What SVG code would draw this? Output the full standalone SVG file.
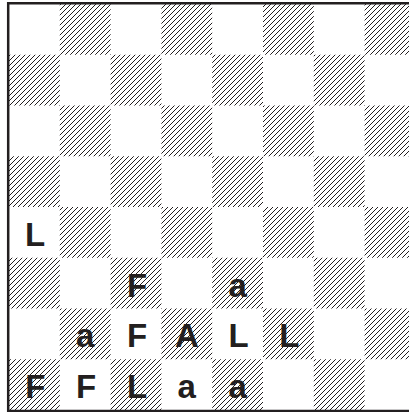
<svg xmlns="http://www.w3.org/2000/svg" width="409" height="412" viewBox="0 0 409 412">
<style>
.d{fill:url(#hatch);}
.p{font-family:"Liberation Sans",Arial,sans-serif;font-weight:bold;font-size:33px;fill:#231f20;text-anchor:middle;}
.b{stroke:#231f20;stroke-width:2.5;fill:none;}
</style>
<defs>
<pattern id="hatch" patternUnits="userSpaceOnUse" width="5" height="5">
<path d="M0,5 L5,0 M-1.25,1.25 L1.25,-1.25 M3.75,6.25 L6.25,3.75" stroke="#231f20" stroke-width="1"/>
</pattern>
</defs>
<rect x="0" y="0" width="409" height="412" fill="#fff"/>
<g id="board">
<rect class="d" x="59.8" y="4" width="50.8" height="50.75"/>
<rect class="d" x="161.4" y="4" width="50.8" height="50.75"/>
<rect class="d" x="263" y="4" width="50.8" height="50.75"/>
<rect class="d" x="364.6" y="4" width="50.8" height="50.75"/>
<rect class="d" x="9" y="54.75" width="50.8" height="50.75"/>
<rect class="d" x="110.6" y="54.75" width="50.8" height="50.75"/>
<rect class="d" x="212.2" y="54.75" width="50.8" height="50.75"/>
<rect class="d" x="313.8" y="54.75" width="50.8" height="50.75"/>
<rect class="d" x="59.8" y="105.5" width="50.8" height="50.75"/>
<rect class="d" x="161.4" y="105.5" width="50.8" height="50.75"/>
<rect class="d" x="263" y="105.5" width="50.8" height="50.75"/>
<rect class="d" x="364.6" y="105.5" width="50.8" height="50.75"/>
<rect class="d" x="9" y="156.25" width="50.8" height="50.75"/>
<rect class="d" x="110.6" y="156.25" width="50.8" height="50.75"/>
<rect class="d" x="212.2" y="156.25" width="50.8" height="50.75"/>
<rect class="d" x="313.8" y="156.25" width="50.8" height="50.75"/>
<rect class="d" x="59.8" y="207" width="50.8" height="50.75"/>
<rect class="d" x="161.4" y="207" width="50.8" height="50.75"/>
<rect class="d" x="263" y="207" width="50.8" height="50.75"/>
<rect class="d" x="364.6" y="207" width="50.8" height="50.75"/>
<rect class="d" x="9" y="257.75" width="50.8" height="50.75"/>
<rect class="d" x="110.6" y="257.75" width="50.8" height="50.75"/>
<rect class="d" x="212.2" y="257.75" width="50.8" height="50.75"/>
<rect class="d" x="313.8" y="257.75" width="50.8" height="50.75"/>
<rect class="d" x="59.8" y="308.5" width="50.8" height="50.75"/>
<rect class="d" x="161.4" y="308.5" width="50.8" height="50.75"/>
<rect class="d" x="263" y="308.5" width="50.8" height="50.75"/>
<rect class="d" x="364.6" y="308.5" width="50.8" height="50.75"/>
<rect class="d" x="9" y="359.25" width="50.8" height="50.75"/>
<rect class="d" x="110.6" y="359.25" width="50.8" height="50.75"/>
<rect class="d" x="212.2" y="359.25" width="50.8" height="50.75"/>
<rect class="d" x="313.8" y="359.25" width="50.8" height="50.75"/>
</g>
<g id="frame">
<path class="b" d="M8.2,412 L8.2,3.2 L409,3.2"/>
<path class="b" d="M7,411 L409,411"/>
</g>
<g id="pieces">
<text class="p" x="35" y="246">L</text>
<text class="p" x="137" y="296.8">F</text>
<text class="p" x="237.6" y="296.8">a</text>
<text class="p" x="85.2" y="347.4">a</text>
<text class="p" x="137" y="347.4">F</text>
<text class="p" x="186.8" y="347.4">A</text>
<text class="p" x="238.6" y="347.4">L</text>
<text class="p" x="289.4" y="347.4">L</text>
<text class="p" x="35.4" y="398.2">F</text>
<text class="p" x="86.2" y="398.2">F</text>
<text class="p" x="137" y="398.2">L</text>
<text class="p" x="186.8" y="398.2">a</text>
<text class="p" x="237.6" y="398.2">a</text>
</g>
</svg>
